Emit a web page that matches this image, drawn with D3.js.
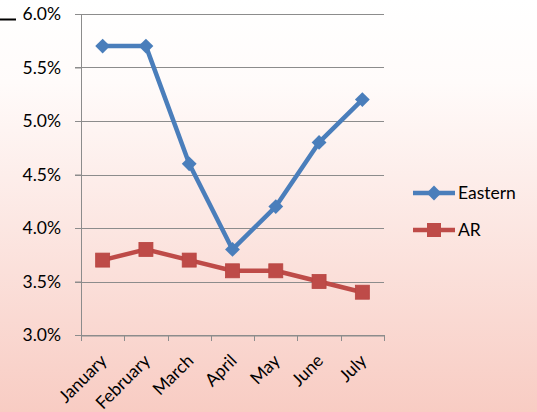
<!DOCTYPE html>
<html><head><meta charset="utf-8">
<script src="https://cdn.jsdelivr.net/npm/d3@7"></script>
<style>body{margin:0;}svg{display:block;}</style>
</head><body>
<svg id="c" width="537" height="412"></svg>
<script>
const months = ["January","February","March","April","May","June","July"];
const eastern = [5.7, 5.7, 4.6, 3.8, 4.2, 4.8, 5.2];
const ar = [3.7, 3.8, 3.7, 3.6, 3.6, 3.5, 3.4];
const yTicks = [3.0, 3.5, 4.0, 4.5, 5.0, 5.5, 6.0];
const seriesNames = ["Eastern", "AR"];
const colors = ["#4a7ebb", "#be4b48"];

(function(){
const svg = d3.select("#c");
const W = 537, H = 412;
const defs = svg.append("defs");
const g = defs.append("linearGradient").attr("id","bg").attr("x1",0).attr("y1",0).attr("x2",0).attr("y2",1);
g.append("stop").attr("offset","0%").attr("stop-color","#ffffff");
g.append("stop").attr("offset","20%").attr("stop-color","#fffbfa");
g.append("stop").attr("offset","100%").attr("stop-color","#f8ccc3");
svg.append("rect").attr("width",W).attr("height",H).attr("fill","url(#bg)");

const pL = 81, pR = 384, pT = 14, pB = 335;
const x = d3.scaleBand().domain(months).range([pL, pR]);
const y = d3.scaleLinear().domain([3.0, 6.0]).range([pB, pT]);
const font = "Lato, 'Open Sans', sans-serif";
const fs = 17.5;

svg.append("line").attr("x1",0).attr("x2",16).attr("y1",19.5).attr("y2",19.5).attr("stroke","#000").attr("stroke-width",2);

svg.append("g").selectAll("line").data(yTicks).join("line")
  .attr("x1", pL - 6).attr("x2", pR)
  .attr("y1", d => Math.round(y(d)) + 0.5).attr("y2", d => Math.round(y(d)) + 0.5)
  .attr("stroke", "#8c8c8c").attr("stroke-width", 1);

const ya = svg.append("g").attr("transform", `translate(${pL},0)`)
  .call(d3.axisLeft(y).tickValues(yTicks).tickSize(6).tickPadding(14).tickFormat(d => d.toFixed(1) + "%"));
ya.select(".domain").attr("stroke","#8c8c8c").attr("d", `M0.5,${pT}V${pB}`);
ya.selectAll(".tick line").attr("stroke","#8c8c8c");
ya.selectAll("text").attr("font-family", font).attr("font-size", fs).attr("fill","#000");

const xa = svg.append("g").attr("transform", `translate(0,${pB + 0.5})`)
  .call(d3.axisBottom(x).tickSize(0).tickSizeOuter(0));
xa.select(".domain").attr("stroke","#8c8c8c");
const bounds = months.map(m => x(m)).concat([pR]);
svg.append("g").selectAll("line").data(bounds).join("line")
  .attr("x1", d => Math.round(d) + 0.5).attr("x2", d => Math.round(d) + 0.5)
  .attr("y1", pB).attr("y2", pB + 6)
  .attr("stroke", "#8c8c8c");
xa.selectAll("text")
  .attr("font-family", font).attr("font-size", fs).attr("fill","#000")
  .attr("text-anchor","end")
  .attr("transform", "translate(1,22) rotate(-45)")
  .attr("dy", "0.35em").attr("y", 0).attr("x", 0);

const cx = d => x(d) + x.bandwidth() / 2;
const line = d3.line().x((d,i) => cx(months[i])).y(d => y(d));

svg.append("path").datum(ar).attr("d", line).attr("fill","none").attr("stroke",colors[1]).attr("stroke-width",4.5).attr("stroke-linejoin","round");
svg.append("g").selectAll("rect").data(ar).join("rect")
  .attr("x",(d,i)=>cx(months[i])-7).attr("y",d=>y(d)-7).attr("width",14).attr("height",14)
  .attr("fill",colors[1]).attr("stroke","#b84541").attr("stroke-width",0.8);

svg.append("path").datum(eastern).attr("d", line).attr("fill","none").attr("stroke",colors[0]).attr("stroke-width",4.5).attr("stroke-linejoin","round");
const dia = d3.symbol().type(d3.symbolSquare).size(110);
svg.append("g").selectAll("path").data(eastern).join("path")
  .attr("d", dia).attr("transform",(d,i)=>`translate(${cx(months[i])},${y(d)}) rotate(45)`)
  .attr("fill",colors[0]);

const leg = svg.append("g");
seriesNames.forEach((n, i) => {
  const ly = 193 + i * 37;
  leg.append("line").attr("x1",413).attr("x2",455).attr("y1",ly).attr("y2",ly).attr("stroke",colors[i]).attr("stroke-width",4.5);
  if (i === 0) {
    leg.append("path").attr("d", dia).attr("transform",`translate(434,${ly}) rotate(45)`).attr("fill",colors[0]);
  } else {
    leg.append("rect").attr("x",427).attr("y",ly-7).attr("width",14).attr("height",14).attr("fill",colors[1]);
  }
  leg.append("text").attr("x",458).attr("y",ly).attr("dy","0.35em")
    .attr("font-family",font).attr("font-size",fs).attr("fill","#000").text(n);
});
})();
</script>
</body></html>
